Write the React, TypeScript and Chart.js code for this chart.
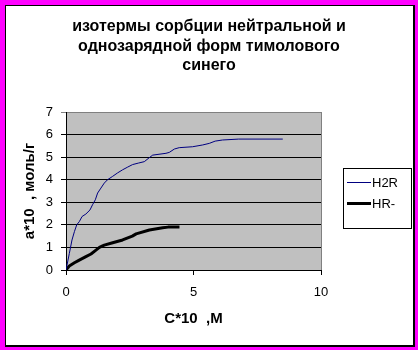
import React, { useEffect, useRef } from 'react';
import { Chart, registerables } from 'chart.js';

Chart.register(...registerables);

const TITLE_LINES = ['изотермы сорбции нейтральной и', 'однозарядной форм тимолового', 'синего'];
const X_TITLE = 'C*10  ,M';
const Y_TITLE = 'a*10  , моль/г';
const SERIES_NAMES = ['H2R', 'HR-'];
const X_TICKS = [0, 5, 10];
const Y_TICKS = [0, 1, 2, 3, 4, 5, 6, 7];

const H2R_X = [0, 0.13, 0.235, 0.33, 0.42, 0.52, 0.63, 0.78, 0.94, 1.04, 1.15, 1.24, 1.37, 1.5, 1.63, 1.83, 2.02, 2.22, 2.42, 2.61, 2.85, 3.07, 3.27, 3.4, 3.92, 4.05, 4.25, 4.44, 4.96, 5.36, 5.62, 5.85, 6.14, 6.77, 8.5];
const H2R_Y = [0, 0.73, 1.33, 1.7, 2.0, 2.14, 2.37, 2.48, 2.66, 2.89, 3.11, 3.41, 3.63, 3.85, 4.0, 4.15, 4.3, 4.44, 4.56, 4.67, 4.74, 4.8, 4.98, 5.09, 5.17, 5.21, 5.36, 5.42, 5.46, 5.54, 5.61, 5.71, 5.76, 5.8, 5.8];

const HR_X = [0, 0.13, 0.33, 0.52, 0.78, 0.98, 1.15, 1.31, 1.5, 1.83, 2.22, 2.6, 2.75, 3.27, 3.79, 4.0, 4.45];
const HR_Y = [0, 0.18, 0.32, 0.44, 0.59, 0.71, 0.86, 1.0, 1.1, 1.21, 1.33, 1.5, 1.6, 1.77, 1.87, 1.9, 1.9];

const FONT = 'Arial, "Liberation Sans", sans-serif';
const COLORS = ['#000080', '#000000'];
const WIDTHS = [1, 3];

const decor = {
  id: 'decor',
  beforeDraw(chart: any) {
    const { ctx, chartArea: a } = chart;
    ctx.save();
    ctx.fillStyle = '#C0C0C0';
    ctx.fillRect(a.left, a.top, a.right - a.left, a.bottom - a.top);
    ctx.restore();
  },
  beforeDatasetsDraw(chart: any) {
    const { ctx, chartArea: a } = chart;
    ctx.save();
    ctx.strokeStyle = '#808080';
    ctx.lineWidth = 1;
    ctx.beginPath();
    ctx.moveTo(Math.round(a.right) + 0.5, a.top);
    ctx.lineTo(Math.round(a.right) + 0.5, a.bottom);
    ctx.stroke();
    ctx.restore();
  },
  afterDraw(chart: any) {
    const { ctx, chartArea: a } = chart;
    ctx.save();
    ctx.fillStyle = '#000';
    // title
    ctx.font = `bold 16px ${FONT}`;
    ctx.textAlign = 'center';
    ctx.textBaseline = 'alphabetic';
    const tb = [31, 50.5, 69.5];
    TITLE_LINES.forEach((t, i) => ctx.fillText(t, 209, tb[i]));
    // x title
    ctx.font = `bold 15px ${FONT}`;
    ctx.textBaseline = 'middle';
    ctx.fillText(X_TITLE, (a.left + a.right) / 2, 319);
    // y title
    ctx.save();
    ctx.translate(30, (a.top + a.bottom) / 2);
    ctx.rotate(-Math.PI / 2);
    ctx.fillText(Y_TITLE, 0, 0);
    ctx.restore();
    // legend
    ctx.fillStyle = '#fff';
    ctx.fillRect(343, 168, 69, 61);
    ctx.strokeStyle = '#000';
    ctx.lineWidth = 1;
    ctx.strokeRect(343.5, 168.5, 68, 60);
    const ly = [182.5, 203.5];
    ctx.font = `13px ${FONT}`;
    ctx.textAlign = 'left';
    ctx.textBaseline = 'middle';
    SERIES_NAMES.forEach((n, i) => {
      ctx.strokeStyle = COLORS[i];
      ctx.lineWidth = WIDTHS[i];
      ctx.beginPath();
      ctx.moveTo(347, ly[i]);
      ctx.lineTo(371, ly[i]);
      ctx.stroke();
      ctx.fillStyle = '#000';
      ctx.fillText(n, 372, ly[i] + 0.5);
    });
    ctx.restore();
  },
};

export default function App() {
  const ref = useRef<HTMLCanvasElement>(null);
  useEffect(() => {
    if (!ref.current) return;
    const chart = new Chart(ref.current, {
      type: 'scatter',
      data: {
        datasets: [
          {
            label: SERIES_NAMES[0],
            data: H2R_X.map((x, i) => ({ x, y: H2R_Y[i] })),
            showLine: true,
            borderColor: COLORS[0],
            borderWidth: WIDTHS[0],
            pointRadius: 0,
            tension: 0,
          },
          {
            label: SERIES_NAMES[1],
            data: HR_X.map((x, i) => ({ x, y: HR_Y[i] })),
            showLine: true,
            borderColor: COLORS[1],
            borderWidth: WIDTHS[1],
            pointRadius: 0,
            tension: 0,
            borderJoinStyle: 'round',
          },
        ],
      },
      options: {
        responsive: false,
        animation: false,
        events: [],
        layout: { padding: { left: 0, top: 112, right: 97, bottom: 50 } },
        plugins: { legend: { display: false }, title: { display: false }, tooltip: { enabled: false } },
        scales: {
          x: {
            type: 'linear',
            min: X_TICKS[0],
            max: X_TICKS[X_TICKS.length - 1],
            afterBuildTicks: (s: any) => { s.ticks = X_TICKS.map((v) => ({ value: v })); },
            afterFit: (s: any) => { s.height = 30; },
            ticks: { font: { family: FONT, size: 13 }, color: '#000', padding: 10, maxRotation: 0 },
            grid: { drawOnChartArea: false, drawTicks: true, tickLength: 5, color: '#000' },
            border: { display: true, color: '#000', width: 1 },
          },
          y: {
            type: 'linear',
            min: Y_TICKS[0],
            max: Y_TICKS[Y_TICKS.length - 1],
            afterBuildTicks: (s: any) => { s.ticks = Y_TICKS.map((v) => ({ value: v })); },
            afterFit: (s: any) => { s.width = 66; },
            ticks: { font: { family: FONT, size: 13 }, color: '#000', padding: 8 },
            grid: {
              drawTicks: true,
              tickLength: 5,
              color: (c: any) => (c.tick && c.tick.value === 7 ? '#808080' : '#000'),
            },
            border: { display: true, color: '#000', width: 1 },
          },
        },
      },
      plugins: [decor],
    });
    return () => chart.destroy();
  }, []);

  return (
    <div style={{ position: 'fixed', left: 0, top: 0, width: 418, height: 350, background: '#FF00FF' }}>
      <div
        style={{
          position: 'absolute',
          left: 5,
          top: 5,
          width: 410,
          height: 342,
          boxSizing: 'border-box',
          background: '#fff',
          borderStyle: 'solid',
          borderColor: '#000',
          borderWidth: '1px 2px 2px 1px',
        }}
      />
      <canvas ref={ref} width={418} height={350} style={{ position: 'absolute', left: 0, top: 0, width: 418, height: 350 }} />
    </div>
  );
}
